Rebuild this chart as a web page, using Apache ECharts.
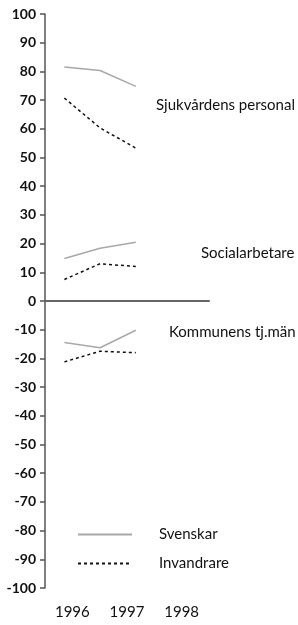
<!DOCTYPE html>
<html>
<head>
<meta charset="utf-8">
<script src="https://cdn.jsdelivr.net/npm/echarts@6/dist/echarts.min.js"></script>
<style>
  html, body { margin: 0; padding: 0; background: #fff; }
  #chart { width: 298px; height: 625px; }
</style>
</head>
<body>
<div id="chart"></div>
<script>
// years on the axis and the x positions of the data points
var years = ['1996', '1997', '1998'];
var yearValues = [1996, 1997, 1998];

// Svenskar (solid grey) per group
var svSjuk = [81.5, 80.3, 74.8];
var svSocial = [14.8, 18.4, 20.5];
var svKommun = [-14.5, -16.3, -10.2];

// Invandrare (dotted black) per group
var invSjuk = [70.7, 60.3, 53.3];
var invSocial = [7.5, 13, 12];
var invKommun = [-21.2, -17.5, -18];

var groupNames = ['Sjukvårdens personal', 'Socialarbetare', 'Kommunens tj.män'];

function pairs(vals) {
    var out = [];
    for (var i = 0; i < vals.length; i++) {
        out.push([yearValues[i], vals[i]]);
    }
    return out;
}

var font = 'Lato';
var svStyle = { color: '#a8a8a8', width: 1.5, type: 'solid' };
var invStyle = { color: '#111', width: 1.5, type: [3, 3] };

function line(name, vals, style) {
    return {
        name: name,
        type: 'line',
        xAxisIndex: 0,
        data: pairs(vals),
        symbol: 'none',
        silent: true,
        lineStyle: style,
        itemStyle: { color: style.color }
    };
}

var chart = echarts.init(document.getElementById('chart'));
chart.setOption({
    animation: false,
    textStyle: { fontFamily: font },
    grid: { left: 45, right: 89, top: 14, bottom: 37 },
    legend: {
        orient: 'vertical',
        left: 72,
        top: 522,
        itemWidth: 54,
        itemHeight: 14,
        itemGap: 14,
        selectedMode: false,
        itemStyle: { color: 'transparent', borderWidth: 0, opacity: 0 },
        formatter: function (name) { return '{t|' + name + '}'; },
        textStyle: {
            rich: { t: { fontFamily: font, fontSize: 15, color: '#111', padding: [0, 0, 0, 22] } }
        },
        data: ['Svenskar', 'Invandrare']
    },
    xAxis: [
        {
            type: 'value',
            min: 1995.457,
            max: 2000.05,
            axisLine: { show: true, onZero: true, lineStyle: { color: '#666', width: 2 } },
            axisTick: { show: false },
            axisLabel: { show: false },
            splitLine: { show: false }
        },
        {
            type: 'category',
            position: 'bottom',
            data: years,
            boundaryGap: true,
            axisLine: { show: false },
            axisTick: { show: false },
            axisLabel: { margin: 17, fontSize: 15, color: '#111', fontFamily: font }
        }
    ],
    yAxis: {
        type: 'value',
        min: -100,
        max: 100,
        interval: 10,
        axisLine: { show: true, lineStyle: { color: '#555', width: 1.5 } },
        axisTick: { show: true, length: 5, lineStyle: { color: '#555', width: 1.5 } },
        axisLabel: { fontSize: 14, color: '#111', margin: 9, fontFamily: font, fontWeight: 'bold' },
        splitLine: { show: false }
    },
    graphic: [
        { type: 'text', left: 156, top: 98, style: { text: groupNames[0], font: '15px Lato', fill: '#111' } },
        { type: 'text', left: 201, top: 246, style: { text: groupNames[1], font: '15px Lato', fill: '#111' } },
        { type: 'text', left: 169, top: 325, style: { text: groupNames[2], font: '15px Lato', fill: '#111' } }
    ],
    series: [
        line('Svenskar', svSjuk, svStyle),
        line('Invandrare', invSjuk, invStyle),
        line('Svenskar', svSocial, svStyle),
        line('Invandrare', invSocial, invStyle),
        line('Svenskar', svKommun, svStyle),
        line('Invandrare', invKommun, invStyle)
    ]
});
</script>
</body>
</html>
